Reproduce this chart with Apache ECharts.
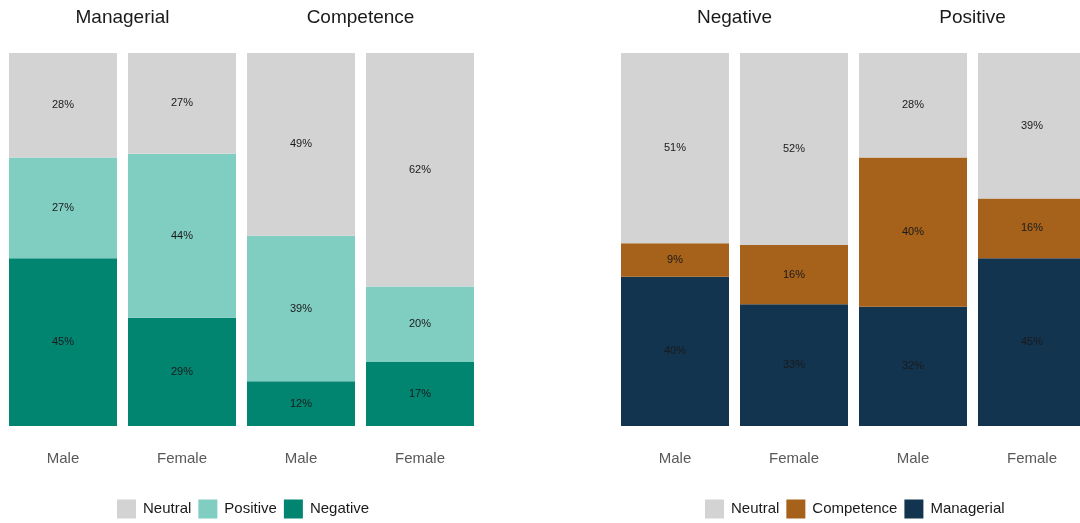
<!DOCTYPE html>
<html>
<head>
<meta charset="utf-8">
<script src="https://cdn.jsdelivr.net/npm/echarts@6/dist/echarts.min.js"></script>
<style>
  html, body { margin: 0; padding: 0; background: #fff; }
  #chart { width: 1080px; height: 523px; }
</style>
</head>
<body>
<div id="chart"></div>
<script>
// data (percent per bar)
const genders = ['Male', 'Female', 'Male', 'Female'];
const leftGroups = ['Managerial', 'Competence'];
const leftNegative = [45, 29, 12, 17];
const leftPositive = [27, 44, 39, 20];
const leftNeutral = [28, 27, 49, 62];

const rightGroups = ['Negative', 'Positive'];
const rightManagerial = [40, 33, 32, 45];
const rightCompetence = [9, 16, 40, 16];
const rightNeutral = [51, 52, 28, 39];

const FONT = 'Liberation Sans, Arial, sans-serif';

// 100% stack: scale each bar to its own total, keep the shown number for the label
function share(arr, a, b, c) {
    return arr.map((v, i) => ({ value: v / (a[i] + b[i] + c[i]) * 100, raw: v }));
}

function barSeries(name, data, idx, color) {
    return {
        name: name,
        type: 'bar',
        stack: 'p' + idx,
        xAxisIndex: idx * 2,
        yAxisIndex: idx,
        barWidth: 108,
        data: data,
        itemStyle: { color: color },
        label: {
            show: true,
            position: 'inside',
            color: '#1a1a1a',
            fontSize: 11,
            fontFamily: FONT,
            formatter: p => p.data.raw + '%'
        },
        emphasis: { disabled: true }
    };
}

function bottomAxis(grid) {
    return {
        type: 'category', gridIndex: grid, data: genders,
        axisLine: { show: false }, axisTick: { show: false },
        axisLabel: { color: '#595959', fontSize: 15, fontFamily: FONT, margin: 25 }
    };
}
function topAxis(grid, groups) {
    return {
        type: 'category', gridIndex: grid, position: 'top', data: groups,
        axisLine: { show: false }, axisTick: { show: false },
        axisLabel: { color: '#1a1a1a', fontSize: 19, fontFamily: FONT, margin: 26 }
    };
}
function valAxis(grid) {
    return { type: 'value', gridIndex: grid, min: 0, max: 100, show: false, splitLine: { show: false } };
}

const legendText = { color: '#1a1a1a', fontSize: 15, fontFamily: FONT, padding: [0, 0, 0, 2] };

var chart = echarts.init(document.getElementById('chart'));
chart.setOption({
    animation: false,
    grid: [
        { left: 3.5, top: 53, width: 476, height: 373, outerBoundsMode: 'none' },
        // right panel runs past the canvas edge, last bar is cut like in the original
        { left: 615.5, top: 53, width: 476, height: 373, outerBoundsMode: 'none' }
    ],
    xAxis: [bottomAxis(0), topAxis(0, leftGroups), bottomAxis(1), topAxis(1, rightGroups)],
    yAxis: [valAxis(0), valAxis(1)],
    legend: [
        {
            data: ['Neutral', 'Positive', 'Negative'],
            left: 117, top: 499.5, padding: 0, itemWidth: 19, itemHeight: 19, itemGap: 7,
            icon: 'rect', textStyle: legendText
        },
        {
            data: ['Neutral', 'Competence', 'Managerial'],
            left: 705, top: 499.5, padding: 0, itemWidth: 19, itemHeight: 19, itemGap: 7,
            icon: 'rect', textStyle: legendText
        }
    ],
    series: [
        barSeries('Negative', share(leftNegative, leftNegative, leftPositive, leftNeutral), 0, '#018571'),
        barSeries('Positive', share(leftPositive, leftNegative, leftPositive, leftNeutral), 0, '#80cdc1'),
        barSeries('Neutral', share(leftNeutral, leftNegative, leftPositive, leftNeutral), 0, '#d3d3d3'),
        barSeries('Managerial', share(rightManagerial, rightManagerial, rightCompetence, rightNeutral), 1, '#12344f'),
        barSeries('Competence', share(rightCompetence, rightManagerial, rightCompetence, rightNeutral), 1, '#a6611a'),
        barSeries('Neutral', share(rightNeutral, rightManagerial, rightCompetence, rightNeutral), 1, '#d3d3d3')
    ]
});
</script>
</body>
</html>
